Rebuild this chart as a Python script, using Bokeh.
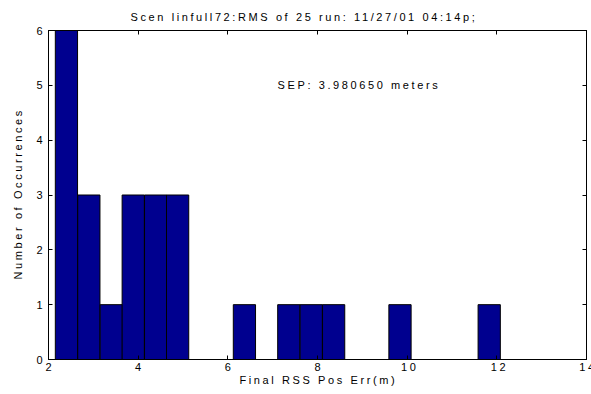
from bokeh.plotting import figure
from bokeh.models import LinearAxis, FixedTicker, Range1d, Label, ColumnDataSource, Title
from bokeh.embed import file_html
from bokeh.resources import INLINE

# Histogram of final RSS position errors: 20 bins over the 25 runs
bin_centers = [2.40, 2.90, 3.40, 3.89, 4.39, 4.88, 5.38, 5.88, 6.37, 6.87,
               7.36, 7.86, 8.36, 8.85, 9.35, 9.84, 10.34, 10.84, 11.33, 11.83]
counts = [6, 3, 1, 3, 3, 3, 0, 0, 1, 0, 1, 1, 1, 0, 0, 1, 0, 0, 0, 1]
bin_width = 0.496

x_ticks = [2, 4, 6, 8, 10, 12, 14]
y_ticks = [0, 1, 2, 3, 4, 5, 6]

title_text = "Scen linfull72:RMS of 25 run: 11/27/01 04:14p;"
sep_text = "SEP: 3.980650 meters"
sep_pos = (7.11, 5.0)
x_label = "Final RSS Pos Err(m)"
y_label = "Number of Occurrences"

FONT = "Liberation Sans"
TRACKING = 2.6  # px of extra space after every glyph

src = ColumnDataSource(dict(
    left=[c - bin_width / 2 for c in bin_centers],
    right=[c + bin_width / 2 for c in bin_centers],
    top=counts,
    bottom=[0] * len(counts),
))

p = figure(width=591, height=394, output_backend="svg", toolbar_location=None,
           x_range=Range1d(2, 14), y_range=Range1d(0, 6),
           min_border_left=48, min_border_right=5,
           min_border_top=30, min_border_bottom=35)

# wide, evenly tracked lettering for all texts
p.stylesheets = [f":host {{ letter-spacing: {TRACKING}px; }}"]

p.quad(left="left", right="right", top="top", bottom="bottom", source=src,
       fill_color="#00008F", line_color="black", line_width=1)

p.xgrid.visible = False
p.ygrid.visible = False
p.outline_line_color = "black"
p.outline_line_width = 1
p.background_fill_color = "white"
p.border_fill_color = "white"


def text_title(text, offset, standoff, valign="bottom"):
    # Titles are laid out left-aligned; offsets account for the tracked width
    return Title(text=text, align="left", offset=offset, standoff=standoff,
                 vertical_align=valign,
                 text_font=FONT, text_font_size="11px",
                 text_font_style="normal", text_color="black")


p.title = text_title(title_text, 82, 15)


def style_axis(ax, ticks, show_labels=True):
    ax.ticker = FixedTicker(ticks=ticks)
    ax.minor_tick_line_color = None
    ax.major_tick_in = 4
    ax.major_tick_out = 0
    ax.axis_line_color = "black"
    ax.major_tick_line_color = "black"
    ax.major_label_text_font = FONT
    ax.major_label_text_color = "black"
    ax.major_label_text_font_size = "11px"
    if not show_labels:
        ax.major_label_overrides = {t: "" for t in ticks}
        ax.major_label_standoff = 0


style_axis(p.xaxis[0], x_ticks)
p.xaxis[0].major_label_standoff = 3

style_axis(p.yaxis[0], y_ticks)
p.yaxis[0].major_label_standoff = 6

top_axis = LinearAxis()
style_axis(top_axis, x_ticks, show_labels=False)
p.add_layout(top_axis, "above")

right_axis = LinearAxis()
style_axis(right_axis, y_ticks, show_labels=False)
p.add_layout(right_axis, "right")

# axis titles
p.add_layout(text_title(x_label, 191, 0, "top"), "below")
p.add_layout(text_title(y_label, 80, 19), "left")

# SEP annotation
p.add_layout(Label(x=sep_pos[0], y=sep_pos[1], text=sep_text, text_align="left",
                   text_baseline="middle", text_font=FONT,
                   text_font_size="11px", text_color="black"))

open("out.html", "w").write(file_html(p, INLINE))
